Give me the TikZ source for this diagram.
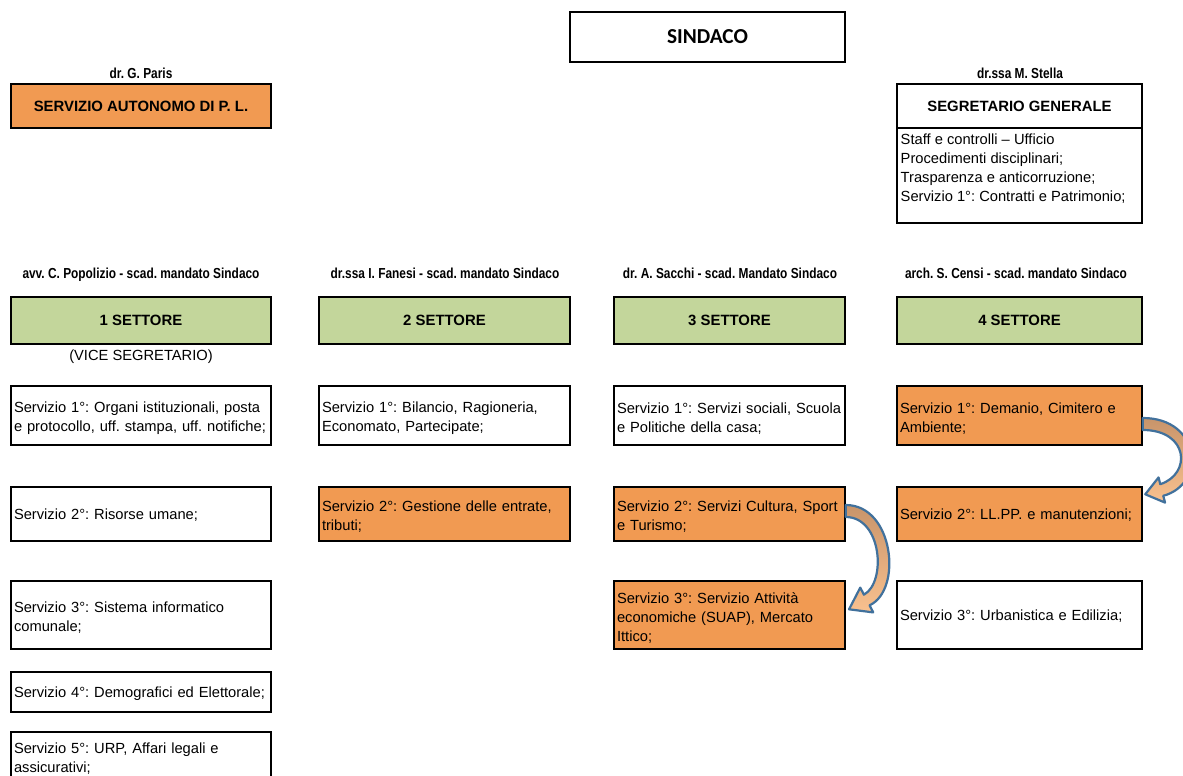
\documentclass[tikz,border=0pt]{standalone}
\usepackage{fontspec}
\setmainfont{Liberation Sans}
\newfontfamily\narrowfont[FakeStretch=0.82]{Liberation Sans}
\newfontfamily\calfont{Carlito}
\definecolor{orangefill}{HTML}{F19A52}
\definecolor{greenfill}{HTML}{C3D69B}
\definecolor{arrowblue}{HTML}{41719C}
\definecolor{tandark}{HTML}{C8946A}
\definecolor{tanlight}{HTML}{F9C18F}
\newcommand{\myreg}{\fontsize{14.7}{19}\selectfont\frenchspacing}
\newcommand{\myhdr}{\fontsize{14.9}{18}\selectfont\bfseries}
\newcommand{\mylbl}{\narrowfont\bfseries\fontsize{14.5}{17}\selectfont\frenchspacing}
\newcommand{\mysind}{\calfont\bfseries\fontsize{21.3}{24}\selectfont}
\newcommand{\mlstrut}{\rule{0pt}{16.5pt}}
\newcommand{\slstrut}{\rule{0pt}{13.5pt}}
\begin{document}
\begin{tikzpicture}[x=1pt,y=-1pt,
  bx/.style={draw=black, line width=1.5pt, inner xsep=3pt, inner ysep=0pt},
  svc/.style={bx, align=left, font=\myreg},
  hdr/.style={bx, align=center, font=\myhdr},
  lbl/.style={font=\mylbl, inner sep=0pt, anchor=base},
  orng/.style={fill=orangefill},
  grn/.style={fill=greenfill},
  svcA/.style={svc, minimum width=260pt, text width=254pt},
  svcB/.style={svc, minimum width=251pt, text width=245pt},
  svcC/.style={svc, minimum width=231pt, text width=225pt},
  svcD/.style={svc, minimum width=245pt, text width=239pt},
  rowA/.style={minimum height=59pt},
  rowB/.style={minimum height=54pt},
  rowC/.style={minimum height=68pt},
  rowD/.style={minimum height=40pt},
  rowE/.style={minimum height=48pt},
  arrowsty/.style={draw=arrowblue, line width=2.2pt, top color=tandark, bottom color=tanlight, line join=round}
]
\fill[white] (0,0) rectangle (1183,776);
\useasboundingbox (0,0) rectangle (1183,776);

% top
\node[hdr, font=\mysind, minimum width=275pt, minimum height=50pt] (sindaco) at (707.5,37) {SINDACO};
\node[lbl] (parislbl) at (141,78.5) {dr. G. Paris};
\node[hdr, orng, minimum width=260pt, minimum height=44pt] (autonomo) at (141,106) {SERVIZIO AUTONOMO DI P. L.};
\node[lbl] (stellalbl) at (1020,78.5) {dr.ssa M. Stella};
\node[hdr, minimum width=245pt, minimum height=44pt] (segr) at (1019.5,106) {SEGRETARIO GENERALE};
\node[bx, minimum width=245pt, minimum height=95pt] (segrbox) at (1019.5,175.5) {};
\node[font=\myreg, align=left, anchor=north west, inner sep=0pt] (segrtxt) at (900.5,133.3)
  {Staff e controlli – Ufficio\\Procedimenti disciplinari;\\Trasparenza e anticorruzione;\\Servizio 1°: Contratti e Patrimonio;};

% sector labels
\node[lbl] (lbl1) at (141,278) {avv. C. Popolizio - scad. mandato Sindaco};
\node[lbl] (lbl2) at (445,278) {dr.ssa I. Fanesi - scad. mandato Sindaco};
\node[lbl] (lbl3) at (730,278) {dr. A. Sacchi - scad. Mandato Sindaco};
\node[lbl] (lbl4) at (1016,278) {arch. S. Censi - scad. mandato Sindaco};

% sectors
\node[hdr, grn, minimum width=260pt, minimum height=47pt] (s1) at (141,320.5) {1 SETTORE};
\node[hdr, grn, minimum width=251pt, minimum height=47pt] (s2) at (444.5,320.5) {2 SETTORE};
\node[hdr, grn, minimum width=231pt, minimum height=47pt] (s3) at (729.5,320.5) {3 SETTORE};
\node[hdr, grn, minimum width=245pt, minimum height=47pt] (s4) at (1019.5,320.5) {4 SETTORE};
\node[font=\myreg, inner sep=0pt, anchor=base] (vice) at (141,360.5) {(VICE SEGRETARIO)};

% column 1
\node[svcA, rowA] (c1r1) at (141,415.5) {\mlstrut\mbox{Servizio 1°: Organi istituzionali, posta}\\\mbox{e protocollo, uff. stampa, uff. notifiche;}};
\node[svcA, rowB] (c1r2) at (141,514) {\slstrut\mbox{Servizio 2°: Risorse umane;}};
\node[svcA, rowC] (c1r3) at (141,615) {\mlstrut\mbox{Servizio 3°: Sistema informatico}\\\mbox{comunale;}};
\node[svcA, rowD] (c1r4) at (141,692) {\slstrut\mbox{Servizio 4°: Demografici ed Elettorale;}};
\node[svcA, rowE] (c1r5) at (141,756) {\mlstrut\mbox{Servizio 5°: URP, Affari legali e}\\\mbox{assicurativi;}};

% column 2
\node[svcB, rowA] (c2r1) at (444.5,415.5) {\mlstrut\mbox{Servizio 1°: Bilancio, Ragioneria,}\\\mbox{Economato, Partecipate;}};
\node[svcB, rowB, orng] (c2r2) at (444.5,514) {\mlstrut\mbox{Servizio 2°: Gestione delle entrate,}\\\mbox{tributi;}};

% column 3
\node[svcC, rowA] (c3r1) at (729.5,415.5) {\mlstrut\mbox{Servizio 1°: Servizi sociali, Scuola}\\\mbox{e Politiche della casa;}};
\node[svcC, rowB, orng] (c3r2) at (729.5,514) {\mlstrut\mbox{Servizio 2°: Servizi Cultura, Sport}\\\mbox{e Turismo;}};
\node[svcC, rowC, orng] (c3r3) at (729.5,615) {\mlstrut\mbox{Servizio 3°: Servizio Attività}\\\mbox{economiche (SUAP), Mercato}\\\mbox{Ittico;}};

% column 4
\node[svcD, rowA, orng] (c4r1) at (1019.5,415.5) {\mlstrut\mbox{Servizio 1°: Demanio, Cimitero e}\\\mbox{Ambiente;}};
\node[svcD, rowB, orng] (c4r2) at (1019.5,514) {\slstrut\mbox{Servizio 2°: LL.PP. e manutenzioni;}};
\node[svcD, rowC] (c4r3) at (1019.5,615) {\slstrut\mbox{Servizio 3°: Urbanistica e Edilizia;}};

% curved arrows
\begin{scope}[shift={(c3r2.east)}]
\shadedraw[arrowsty] (0,-9) .. controls (48,-9) and (57,76) .. (23.8,91.3) -- (27.5,98.4) -- (3.3,95.3) -- (14.5,73.6) -- (18.2,80.7) .. controls (41,68) and (36,3) .. (0,3) -- cycle;
\end{scope}
\begin{scope}[shift={(c4r1.east)}]
\shadedraw[arrowsty] (0,2.5) .. controls (58,2.5) and (64,68.5) .. (20.5,80.3) -- (22.3,87.1) -- (2.5,78.8) -- (15.8,61.9) -- (17.5,68.7) .. controls (49,58.5) and (46,14.5) .. (0,14.5) -- cycle;
\end{scope}
\end{tikzpicture}
\end{document}
